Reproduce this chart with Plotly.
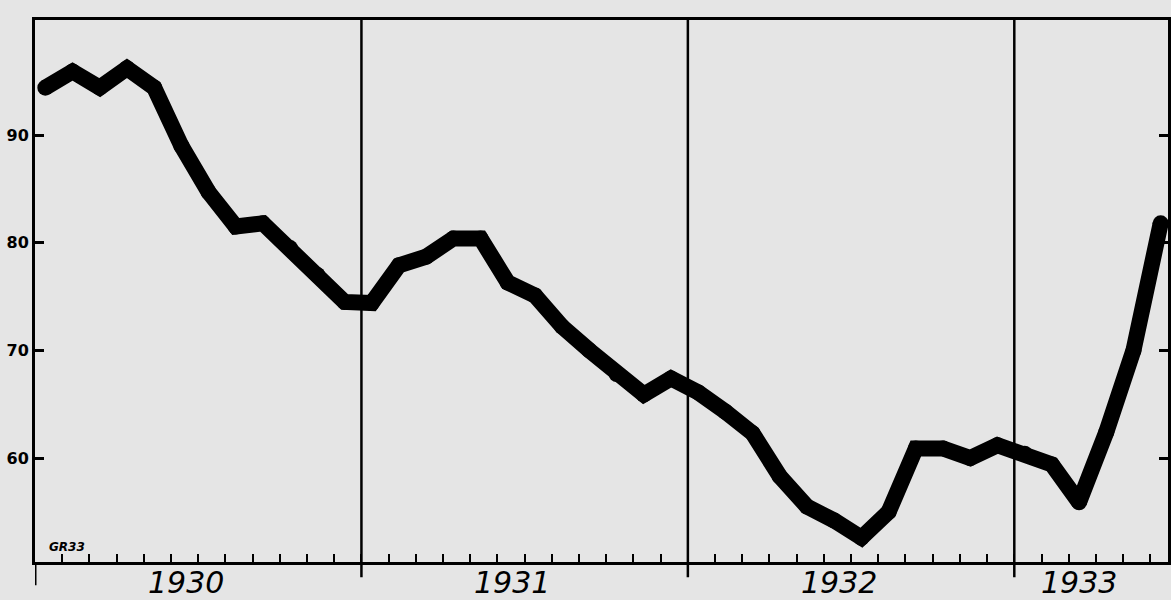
import plotly.graph_objects as go

# ---- data (monthly index, Jan 1930 .. Jun 1933) ----
years = [1930, 1931, 1932, 1933]
values = [94.4, 95.9, 94.4, 96.2, 94.4, 89.0, 84.7, 81.5, 81.8, 79.5, 77.0, 74.5,
          74.4, 77.9, 78.7, 80.4, 80.4, 76.3, 75.1, 72.2, 70.0, 67.8, 65.9, 67.4,
          66.1, 64.3, 62.3, 58.3, 55.5, 54.2, 52.6, 55.0, 60.9, 60.9, 60.0, 61.2,
          60.4, 59.4, 55.9, 62.4, 70.0, 81.8]
y_ticks = [60, 70, 80, 90]
y_tick_labels = ["60", "70", "80", "90"]
mark = "GR33"

# month index of each point (points sit a little before mid-month)
x = [i + 0.38 for i in range(len(values))]
x_max = 41.65
y_min, y_max = 50.35, 100.68

bg = "#e5e5e5"

fig = go.Figure()
fig.add_trace(go.Scatter(
    x=x, y=values, mode="lines+markers",
    line=dict(color="black", width=16),
    marker=dict(color="black", size=16),
    hoverinfo="skip", showlegend=False,
))

shapes = []
# year separators
for k in range(1, len(years)):
    shapes.append(dict(type="line", xref="x", yref="paper", x0=12 * k, x1=12 * k,
                       y0=-0.028, y1=1, line=dict(color="black", width=2.5)))
# left axis extends below the baseline
shapes.append(dict(type="line", xref="x", yref="paper", x0=0, x1=0, y0=-0.043, y1=0,
                   line=dict(color="black", width=3)))

annotations = []
for k, yr in enumerate(years):
    start = 12 * k
    end = min(12 * k + 12, x_max)
    annotations.append(dict(
        x=(start + end) / 2 - 0.45, y=-0.038, xref="x", yref="paper",
        text=f"<i>{yr}</i>", showarrow=False, xanchor="center", yanchor="middle",
        font=dict(family="DejaVu Sans", size=30, color="black"),
    ))
annotations.append(dict(
    x=0.011, y=0.027, xref="paper", yref="paper", text=f"<b><i>{mark}</i></b>",
    showarrow=False, xanchor="left", yanchor="middle",
    font=dict(family="DejaVu Sans", size=12, color="black"),
))

fig.update_layout(
    width=1171, height=600,
    margin=dict(l=35, r=3, t=20, b=38, autoexpand=False),
    paper_bgcolor=bg, plot_bgcolor=bg,
    shapes=shapes, annotations=annotations,
    xaxis=dict(range=[0, x_max], showgrid=False, zeroline=False, automargin=False,
               showline=True, linecolor="black", linewidth=3, mirror=True,
               ticks="inside", tick0=0, dtick=1, ticklen=8, tickwidth=2,
               tickcolor="black", showticklabels=False),
    yaxis=dict(range=[y_min, y_max], showgrid=False, zeroline=False, automargin=False,
               showline=True, linecolor="black", linewidth=3, mirror="ticks",
               ticks="inside", tickvals=y_ticks, ticktext=y_tick_labels,
               ticklen=9, tickwidth=3, tickcolor="black",
               tickfont=dict(family="DejaVu Sans", size=16, color="black", weight="bold")),
)

fig.write_html("out.html",
               config={"displayModeBar": False},
               post_script="document.body.style.margin='0';document.body.style.background='%s';" % bg)
